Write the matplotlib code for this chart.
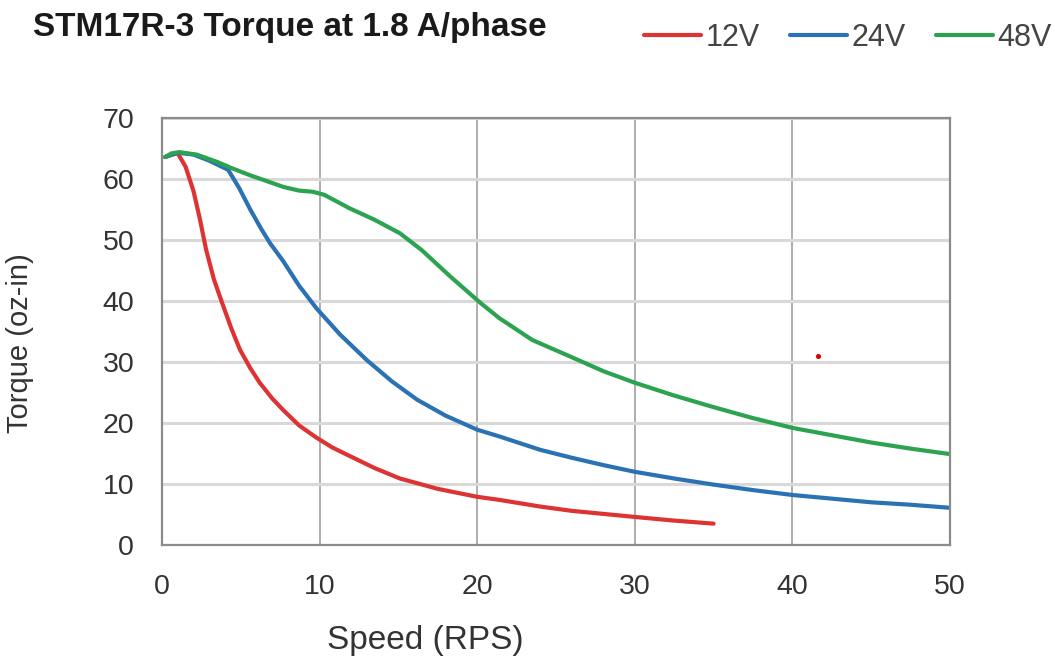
import numpy as np
import matplotlib.pyplot as plt

plt.rcParams['font.family'] = ['Liberation Sans', 'DejaVu Sans']

# speed (RPS) vs torque (oz-in)
speed_12v = [0.2, 0.6, 1.0, 1.5, 2.0, 2.4, 2.8, 3.3, 3.8, 4.4, 4.95, 5.6, 6.2, 7.0, 7.7,
             8.7, 9.8, 10.8, 11.9, 13.5, 15.1, 17.5, 20.0, 21.4, 24.0, 26.0, 28.0, 30.0, 32.5, 35.0]
torque_12v = [63.6, 64.0, 64.2, 62.0, 58.0, 53.5, 48.4, 43.5, 39.8, 35.5, 32.0, 29.0, 26.6, 24.0, 22.1,
              19.6, 17.6, 16.0, 14.6, 12.6, 10.9, 9.2, 7.9, 7.4, 6.3, 5.6, 5.1, 4.6, 4.0, 3.5]

speed_24v = [0.2, 1.0, 2.0, 3.0, 4.2, 4.9, 5.6, 6.3, 6.85, 7.7, 8.7, 9.8, 11.3, 13.0, 14.6, 16.2,
             18.0, 20.0, 21.4, 24.0, 26.0, 28.0, 30.0, 32.5, 35.0, 37.5, 40.0, 42.5, 45.0, 47.5, 50.0]
torque_24v = [63.6, 64.3, 64.0, 63.0, 61.5, 58.5, 55.0, 51.8, 49.5, 46.5, 42.5, 38.8, 34.5, 30.3, 26.8, 23.8,
              21.2, 18.9, 17.8, 15.6, 14.3, 13.1, 12.0, 10.9, 9.9, 9.0, 8.2, 7.6, 7.0, 6.6, 6.1]

speed_48v = [0.2, 0.6, 1.1, 2.2, 3.5, 4.5, 5.6, 6.6, 7.7, 8.7, 9.6, 10.3, 11.9, 13.5, 15.1, 16.5,
             18.3, 20.2, 21.4, 23.5, 25.9, 28.0, 30.0, 32.5, 35.0, 37.5, 40.0, 42.5, 45.0, 47.5, 50.0]
torque_48v = [63.6, 64.2, 64.4, 64.0, 62.8, 61.7, 60.6, 59.7, 58.7, 58.1, 57.9, 57.4, 55.2, 53.3, 51.1, 48.3,
              44.0, 39.7, 37.2, 33.6, 30.9, 28.5, 26.6, 24.5, 22.6, 20.8, 19.2, 18.0, 16.8, 15.8, 14.9]

# stray red dot in the source image
stray_x = [41.6]
stray_y = [31.0]

series = [
    ('12V', speed_12v, torque_12v, '#DD3333'),
    ('24V', speed_24v, torque_24v, '#2B72B5'),
    ('48V', speed_48v, torque_48v, '#2BA350'),
]

fig = plt.figure(figsize=(10.55, 6.69), dpi=100)
ax = fig.add_axes([162 / 1055, 1 - 545 / 669, 788 / 1055, 427 / 669])

handles = []
for name, xs, ys, col in series:
    h, = ax.plot(xs, ys, color=col, linewidth=3.0, label=name,
                 solid_capstyle='round', solid_joinstyle='round')
    handles.append(h)

ax.scatter(stray_x, stray_y, s=7, color='#E00000', zorder=5)

ax.set_xlim(0, 50)
ax.set_ylim(0, 70)
ax.set_xticks(np.arange(0, 51, 10))
ax.set_yticks(np.arange(0, 71, 10))
ax.xaxis.grid(True, color='#A8A8A8', linewidth=1.3)
ax.yaxis.grid(True, color='#D9D9D9', linewidth=2.2)
ax.set_axisbelow(True)
for sp in ax.spines.values():
    sp.set_color('#8C8C8C')
    sp.set_linewidth(1.6)
ax.tick_params(length=0, labelsize=20.5, colors='#333333')
ax.tick_params(axis='x', pad=21)
ax.tick_params(axis='y', pad=20)

# axis titles placed where the reference has them
fig.text(425 / 1055, 1 - 641 / 669, 'Speed (RPS)', fontsize=24, ha='center', va='center',
         color='#333333')
fig.text(20 / 1055, 1 - 343 / 669, 'Torque (oz-in)', fontsize=21, rotation=90,
         ha='center', va='center', color='#333333')

fig.text(33 / 1055, 1 - 36 / 669, 'STM17R-3 Torque at 1.8 A/phase', fontsize=24,
         fontweight='bold', va='baseline', ha='left', color='#1A1A1A')

fig.legend(handles=handles, loc='center right', bbox_to_anchor=(1052 / 1055, 1 - 38 / 669),
           ncol=3, frameon=False, borderpad=0, borderaxespad=0, fontsize=22,
           handlelength=1.86, handletextpad=0.15, columnspacing=1.0, labelcolor='#444444')

plt.savefig('out.png', dpi=100)
plt.close()
